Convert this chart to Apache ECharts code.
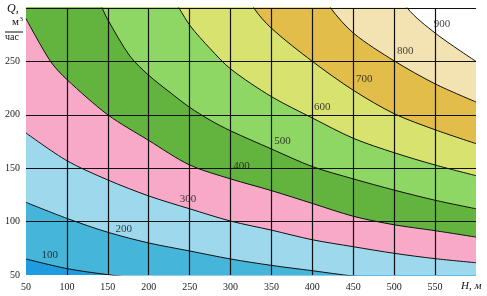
<!DOCTYPE html>
<html>
<head>
<meta charset="utf-8">
<script src="https://cdn.jsdelivr.net/npm/echarts@6/dist/echarts.min.js"></script>
<style>html,body{margin:0;padding:0;background:#fff}#c{width:487px;height:296px}</style>
</head>
<body>
<div id="c"></div>
<script>
// Tick labels
const xTickLabels = ['50','100','150','200','250','300','350','400','450','500','550'];
const yTickLabels = ['50','100','150','200','250'];

// Curves [H, Q] (points outside the frame only close the fill)
const curve100 = [[50,65],[100,56],[150,50.3],[200,46],[300,40],[450,34],[600,30]];
const curve200 = [[50,118],[100,103],[150,90],[200,80],[250,72.5],[300,65],[350,59],[400,54],[450,49],[500,45.5],[600,40]];
const curve300 = [[50,183],[100,157],[150,139],[200,124],[250,112],[300,100.5],[350,92],[400,83],[450,76.5],[500,70.3],[550,65.3],[600,61.5]];
const curve400 = [[50,290],[80,250],[100,233],[150,200],[200,176],[250,153],[300,140],[350,129],[400,117],[450,105],[500,97],[550,91.5],[600,85.5]];
const curve500 = [[50,500],[100,370],[125,328],[143,300],[150,289],[177,255],[200,237],[226,221],[250,207],[275,195],[300,185],[350,168],[400,151.5],[450,140],[500,129.5],[550,120],[600,112]];
const curve600 = [[50,600],[150,450],[210,335],[237,300],[251,283],[275,262],[300,243],[350,217],[400,197],[450,178],[500,164.5],[550,153],[600,143]];
const curve700 = [[50,700],[200,500],[300,340],[328.5,300],[350,281],[400,250],[450,223],[500,201],[550,186],[600,173]];
const curve800 = [[50,800],[250,550],[400,330],[422.4,300],[451,276],[500,250.5],[550,229],[600,212]];
const curve900 = [[50,900],[350,550],[490,335],[516,300],[551,276],[600,250]];

const curveNames = ['900','800','700','600','500','400','300','200','100'];
const curves = [curve900,curve800,curve700,curve600,curve500,curve400,curve300,curve200,curve100];
const fills = ['#f3e3b3','#e2bd4a','#d7e36e','#8fd765','#62b43e','#f8a9c8','#9dd8ec','#46b5da','#1f9cdd'];

// Curve label anchor points [text, H, Q]
const curveLabels = [['100',79,68.7],['200',169.4,93],['300',248,121],['400',313.4,152],['500',363.6,175.5],['600',412,207.3],['700',463.4,233.5],['800',513.6,259.7],['900',558.3,285]];

const serif = '"Liberation Serif","DejaVu Serif",serif';
const chart = echarts.init(document.getElementById('c'), null, {renderer:'canvas'});

const series = curves.map((d,i)=>({
  type:'line', name:curveNames[i], data:d, smooth:0.3,
  showSymbol:false, clip:true, silent:true,
  lineStyle:{color:'#111', width:1},
  areaStyle:{color:fills[i], opacity:1, origin:'start'},
  z:2
}));
series.push({
  type:'scatter', symbolSize:0, silent:true, z:8,
  data: curveLabels.map(l=>({name:l[0], value:[l[1],l[2]]})),
  label:{show:true, position:'inside', formatter:'{b}', color:'#111', fontFamily:serif, fontSize:11}
});

chart.setOption({
  animation:false,
  backgroundColor:'#fff',
  grid:{left:26, right:11, top:8, bottom:21},
  xAxis:{type:'value', min:50, max:600, interval:50, z:5,
    axisLine:{show:false}, axisTick:{show:false},
    axisLabel:{margin:7, color:'#222', fontFamily:serif, fontSize:10,
      formatter:(v)=>{const i=Math.round((v-50)/50); return xTickLabels[i]||'';}},
    splitLine:{show:true, showMinLine:false, showMaxLine:false, lineStyle:{color:'#111', width:1.2}}
  },
  yAxis:{type:'value', min:50, max:300, interval:50, z:5,
    axisLine:{show:false}, axisTick:{show:false},
    axisLabel:{margin:6, color:'#222', fontFamily:serif, fontSize:10,
      formatter:(v)=>{const i=Math.round((v-50)/50); return yTickLabels[i]||'';}},
    splitLine:{show:true, showMinLine:false, showMaxLine:true, lineStyle:{color:'#111', width:1}}
  },
  graphic:[
    {type:'text', left:7, top:3, z:10, style:{text:'Q,', font:'italic 12px '+serif, fill:'#111'}},
    {type:'text', left:12, top:17, z:10, style:{text:'м', font:'11px '+serif, fill:'#111'}},
    {type:'text', left:19.5, top:16, z:10, style:{text:'3', font:'7px '+serif, fill:'#111'}},
    {type:'line', z:10, shape:{x1:5, y1:32, x2:23, y2:32}, style:{stroke:'#111', lineWidth:1}},
    {type:'text', left:5, top:32, z:10, style:{text:'час', font:'10px '+serif, fill:'#111'}},
    {type:'text', left:461, top:281, z:10, style:{text:'H, м', font:'italic 11px '+serif, fill:'#111'}}
  ],
  series:series
});
</script>
</body>
</html>
